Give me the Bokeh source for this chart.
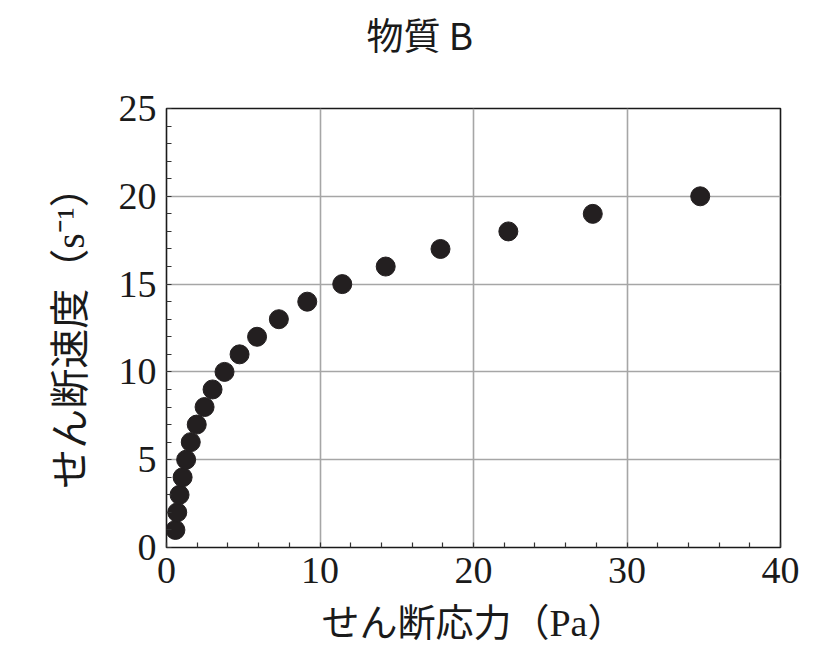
from bokeh.plotting import figure
from bokeh.layouts import column
from bokeh.models import Range1d, SingleIntervalTicker, ColumnDataSource, Title
from bokeh.embed import file_html
from bokeh.resources import INLINE

# data
shear_stress = [0.58, 0.70, 0.85, 1.05, 1.28, 1.58, 1.97, 2.48, 3.00, 3.78,
                4.76, 5.90, 7.32, 9.17, 11.45, 14.28, 17.85, 22.27, 27.77, 34.77]
shear_rate = [1, 2, 3, 4, 5, 6, 7, 8, 9, 10,
              11, 12, 13, 14, 15, 16, 17, 18, 19, 20]

title_text = "物質 B"
x_label = "せん断応力（Pa）"
y_label = "せん断速度（s⁻¹）"

W = 803
TOP_H = 80

# --- title strip: an empty figure that only carries the title ---
head = figure(width=W, height=TOP_H, output_backend="svg", toolbar_location=None,
              x_range=Range1d(0, 1), y_range=Range1d(0, 1),
              x_axis_type=None, y_axis_type=None,
              min_border=0, outline_line_color=None)
head.xgrid.visible = False
head.ygrid.visible = False
head.background_fill_color = "white"
head.border_fill_color = "white"
head.title = Title(text=title_text, align="left", offset=200, standoff=12,
                   vertical_align="top",
                   text_font="Noto Sans CJK JP", text_font_size="37px",
                   text_font_style="normal", text_color="#1a1a1a")

# --- main chart ---
src = ColumnDataSource(dict(x=shear_stress, y=shear_rate))

p = figure(width=W, height=648 - TOP_H, output_backend="svg", toolbar_location=None,
           x_range=Range1d(0, 40), y_range=Range1d(0, 25),
           min_border_left=166, min_border_right=23,
           min_border_top=108 - TOP_H, min_border_bottom=101)

p.outline_line_color = "#1a1a1a"
p.outline_line_width = 1.6
p.outline_line_alpha = 1.0

p.xaxis.ticker = SingleIntervalTicker(interval=10, num_minor_ticks=5)
p.yaxis.ticker = SingleIntervalTicker(interval=5, num_minor_ticks=5)

for ax in (p.xaxis, p.yaxis):
    ax.axis_line_color = None
    ax.major_tick_in = 0
    ax.major_tick_out = 0
    ax.minor_tick_in = 5
    ax.minor_tick_out = 0
    ax.minor_tick_line_color = "#333333"
    ax.minor_tick_line_width = 1.2
    ax.major_label_text_font = "Liberation Serif"
    ax.major_label_text_font_size = "38px"
    ax.major_label_text_color = "#1a1a1a"
    ax.axis_label_text_font = "Liberation Serif, Noto Sans CJK JP"
    ax.axis_label_text_font_style = "normal"
    ax.axis_label_text_color = "#1a1a1a"

p.xaxis.axis_label_text_font_size = "38px"
p.yaxis.axis_label_text_font_size = "40px"
p.xaxis.axis_label = x_label
p.yaxis.axis_label = y_label
p.xaxis.major_label_standoff = 10
p.yaxis.major_label_standoff = 10
p.xaxis.axis_label_standoff = 16
p.yaxis.axis_label_standoff = 23

p.xgrid.grid_line_color = "#a6a6a6"
p.ygrid.grid_line_color = "#a6a6a6"
p.xgrid.grid_line_width = 1.6
p.ygrid.grid_line_width = 1.6

p.background_fill_color = "white"
p.border_fill_color = "white"

p.scatter("x", "y", source=src, size=19, marker="circle",
          fill_color="#231f20", line_color="#231f20")

layout = column(head, p, spacing=0)
open("out.html", "w").write(file_html(layout, INLINE))
